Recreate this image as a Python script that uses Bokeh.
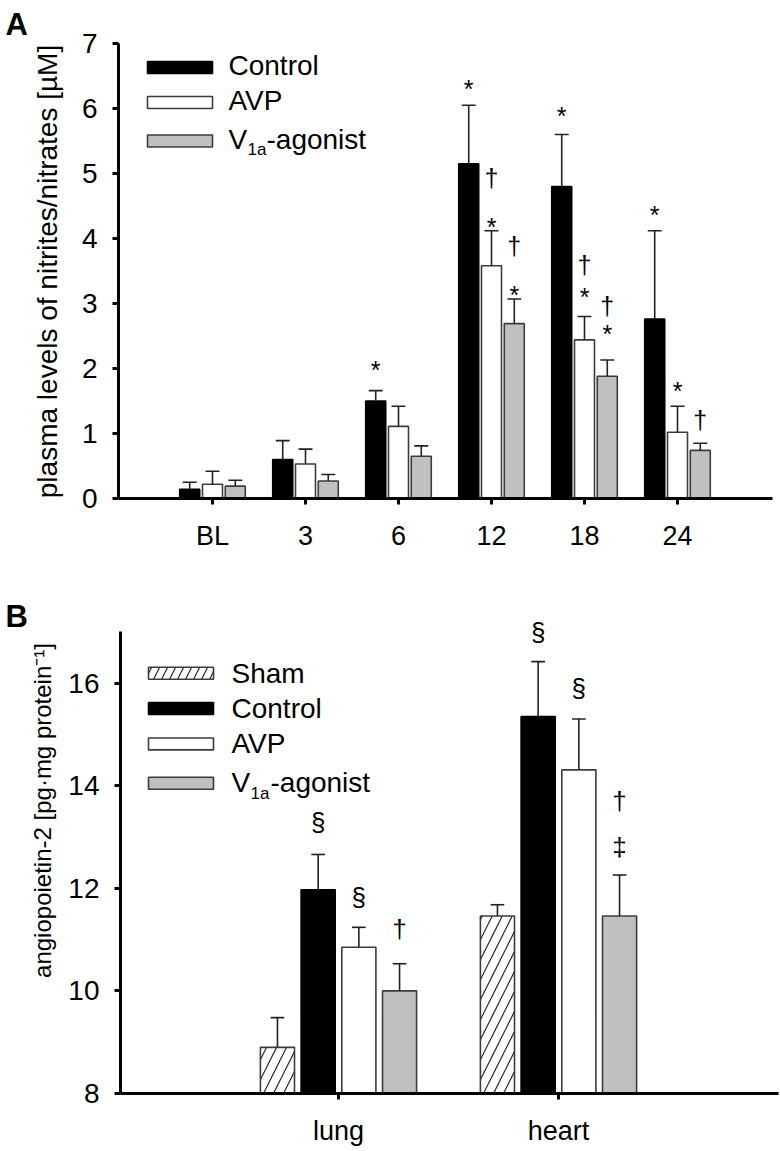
from bokeh.plotting import figure
from bokeh.layouts import column, row
from bokeh.models import Range1d, FixedTicker
from bokeh.core.properties import value
from bokeh.embed import file_html
from bokeh.resources import INLINE

FONT = "Liberation Sans"

# ---------------- data: panel A ----------------
timepoints = ["BL", "3", "6", "12", "18", "24"]
a_control = [0.14, 0.60, 1.50, 5.15, 4.80, 2.76]
a_control_err = [0.11, 0.29, 0.16, 0.90, 0.80, 1.36]
a_avp = [0.22, 0.53, 1.11, 3.58, 2.44, 1.02]
a_avp_err = [0.20, 0.23, 0.31, 0.54, 0.36, 0.40]
a_v1a = [0.19, 0.27, 0.65, 2.69, 1.88, 0.74]
a_v1a_err = [0.09, 0.10, 0.16, 0.38, 0.25, 0.11]
a_yticks = [0, 1, 2, 3, 4, 5, 6, 7]
# significance marks: time index, group index (0 Control, 1 AVP, 2 V1a), symbol, text-middle value
a_mark_idx = [2, 3, 3, 3, 3, 3, 4, 4, 4, 4, 4, 5, 5, 5]
a_mark_grp = [0, 0, 1, 1, 2, 2, 0, 1, 1, 2, 2, 0, 1, 2]
a_mark_sym = ["*", "*", "†", "*", "†", "*", "*", "†", "*", "†", "*", "*", "*", "†"]
a_mark_y = [1.97, 6.30, 4.93, 4.18, 3.88, 3.13, 5.89, 3.59, 3.10, 2.96, 2.53, 4.36, 1.65, 1.21]

# ---------------- data: panel B ----------------
organs = ["lung", "heart"]
b_sham = [8.90, 11.46]
b_sham_err = [0.58, 0.22]
b_control = [11.97, 15.35]
b_control_err = [0.69, 1.07]
b_avp = [10.85, 14.31]
b_avp_err = [0.39, 0.99]
b_v1a = [10.00, 11.46]
b_v1a_err = [0.53, 0.80]
b_yticks = [8, 10, 12, 14, 16]
# group index (0 Sham, 1 Control, 2 AVP, 3 V1a)
b_mark_idx = [0, 0, 0, 1, 1, 1, 1]
b_mark_grp = [1, 2, 3, 1, 2, 3, 3]
b_mark_sym = ["§", "§", "†", "§", "§", "†", "‡"]
b_mark_y = [13.29, 11.84, 11.21, 17.00, 15.91, 13.71, 12.81]

# ---------------- styles ----------------
EDGE = "#3c3c3c"
GRAY = "#c0c0c0"
STRIP_W = 64


def style_axes(p, xticks, xlabels, yticks, ybounds, xstandoff):
    p.xaxis.ticker = FixedTicker(ticks=xticks)
    p.xaxis.major_label_overrides = {t: l for t, l in zip(xticks, xlabels)}
    p.yaxis.ticker = FixedTicker(ticks=yticks)
    p.yaxis.bounds = ybounds
    for ax in p.axis:
        ax.axis_line_width = 3
        ax.axis_line_color = "black"
        ax.major_tick_line_width = 3
        ax.major_tick_line_color = "black"
        ax.major_tick_out = 6
        ax.major_tick_in = 0
        ax.minor_tick_line_color = None
        ax.major_label_text_font = FONT
        ax.major_label_text_color = "black"
    p.xaxis.major_label_text_font_size = "27px"
    p.yaxis.major_label_text_font_size = "28px"
    p.xaxis.major_label_standoff = xstandoff
    p.yaxis.major_label_standoff = 15
    p.grid.grid_line_color = None
    p.outline_line_color = None
    p.background_fill_color = "white"
    p.border_fill_color = "white"


def bars(p, xs, tops, errs, bottom, width, cap, fill, line, hatch=None):
    kw = {}
    if hatch:
        kw = dict(hatch_pattern=hatch, hatch_scale=20, hatch_weight=1.2, hatch_color="#222222")
    p.vbar(x=xs, top=tops, bottom=bottom, width=width, fill_color=fill,
           line_color=line, line_width=1.6, **kw)
    ups = [t + e for t, e in zip(tops, errs)]
    p.segment(x0=xs, y0=tops, x1=xs, y1=ups, line_color="#222222", line_width=1.6)
    p.segment(x0=[x - cap for x in xs], y0=ups, x1=[x + cap for x in xs], y1=ups,
              line_color="#222222", line_width=1.6)


def txt(p, x, y, text, size, align="left", bold=False, angle=0.0):
    p.text(x=[x], y=[y], text=[text], text_font=value(FONT), text_font_size=value(size),
           text_align=align, text_baseline="middle", angle=angle, text_color="black",
           text_font_style="bold" if bold else "normal")


def strip(height, top_px):
    # narrow text strip left of a panel; its data units are page pixels (y downwards)
    s = figure(frame_width=STRIP_W, frame_height=height, x_range=Range1d(0, STRIP_W),
               y_range=Range1d(top_px + height, top_px), output_backend="svg",
               toolbar_location=None, x_axis_location=None, y_axis_location=None,
               min_border=0, title=None)
    if "frame_align" in s.properties():
        s.frame_align = False
    s.grid.grid_line_color = None
    s.outline_line_color = None
    s.border_fill_color = "white"
    s.background_fill_color = "white"
    return s


# ================= Panel A =================
# page px of x=0 is 212, 93 px per category; y=0 at 498 px, 65 px per unit
A_X0, A_XS, A_Y0, A_YS = 212.0, 93.0, 498.0, 65.0
def ax_(px): return (px - A_X0) / A_XS
def ay_(py): return (A_Y0 - py) / A_YS

A_H = 560
pA = figure(width=780 - STRIP_W, height=A_H, x_range=Range1d(ax_(118), ax_(772)),
            y_range=Range1d(0, 7), output_backend="svg", toolbar_location=None,
            min_border_left=118 - STRIP_W, min_border_right=8, min_border_top=43,
            min_border_bottom=A_H - 498, title=None)
style_axes(pA, list(range(len(timepoints))), timepoints, a_yticks, (0, 7), 16)

a_off = [-0.245, 0.0, 0.245]
a_w, a_cap = 0.215, 0.075
idx = list(range(len(timepoints)))
bars(pA, [i + a_off[0] for i in idx], a_control, a_control_err, 0, a_w, a_cap, "black", "black")
bars(pA, [i + a_off[1] for i in idx], a_avp, a_avp_err, 0, a_w, a_cap, "white", EDGE)
bars(pA, [i + a_off[2] for i in idx], a_v1a, a_v1a_err, 0, a_w, a_cap, GRAY, EDGE)

pA.text(x=[i + a_off[g] for i, g in zip(a_mark_idx, a_mark_grp)], y=a_mark_y, text=a_mark_sym,
        text_font=value(FONT), text_font_size=value("25px"), text_align="center",
        text_baseline="middle", text_color="black")

# legend A
leg_cy = [67, 102, 140.5]
pA.quad(left=[ax_(147)] * 3, right=[ax_(212)] * 3,
        top=[ay_(c - 6) for c in leg_cy], bottom=[ay_(c + 6) for c in leg_cy],
        fill_color=["black", "white", GRAY], line_color=["black", EDGE, EDGE], line_width=1.6)
txt(pA, ax_(228), ay_(leg_cy[0] - 2), "Control", "28px")
txt(pA, ax_(228), ay_(leg_cy[1] - 2), "AVP", "28px")
txt(pA, ax_(228), ay_(leg_cy[2] - 2), "V", "28px")
txt(pA, ax_(247), ay_(leg_cy[2] + 8.5), "1a", "17px")
txt(pA, ax_(266), ay_(leg_cy[2] - 2), "-agonist", "28px")

sA = strip(A_H, 0)
txt(sA, 47, 271, "plasma levels of nitrites/nitrates [µM]", "28px", align="center",
    angle=1.5707963)
txt(sA, 5, 24, "A", "31px", bold=True)

# ================= Panel B =================
B_X0, B_XS, B_Y0, B_YS = 338.0, 220.0, 1095.0, 51.5
def bx_(px): return (px - B_X0) / B_XS
def by_(py): return 8 + (B_Y0 - py) / B_YS

B_TOP = A_H
B_H = 588
pB = figure(width=780 - STRIP_W, height=B_H, x_range=Range1d(bx_(120), bx_(778)),
            y_range=Range1d(8, by_(601)), output_backend="svg", toolbar_location=None,
            min_border_left=120 - STRIP_W, min_border_right=2, min_border_top=601 - B_TOP,
            min_border_bottom=B_TOP + B_H - 1095, title=None)
style_axes(pB, [0, 1], organs, b_yticks, (8, 17), 16)

b_off = [-0.2775, -0.0925, 0.0925, 0.2775]
b_w, b_cap = 0.155, 0.031
oi = list(range(len(organs)))
bars(pB, [i + b_off[0] for i in oi], b_sham, b_sham_err, 8, b_w, b_cap, "white", EDGE, hatch="/")
bars(pB, [i + b_off[1] for i in oi], b_control, b_control_err, 8, b_w, b_cap, "black", "black")
bars(pB, [i + b_off[2] for i in oi], b_avp, b_avp_err, 8, b_w, b_cap, "white", EDGE)
bars(pB, [i + b_off[3] for i in oi], b_v1a, b_v1a_err, 8, b_w, b_cap, GRAY, EDGE)

pB.text(x=[i + b_off[g] for i, g in zip(b_mark_idx, b_mark_grp)], y=b_mark_y, text=b_mark_sym,
        text_font=value(FONT), text_font_size=value("26px"), text_align="center",
        text_baseline="middle", text_color="black")

# legend B
bl_cy = [673, 708.5, 744, 783.5]
pB.quad(left=[bx_(148)], right=[bx_(213)], top=[by_(bl_cy[0] - 6)], bottom=[by_(bl_cy[0] + 6)],
        fill_color="white", line_color=EDGE, line_width=1.6,
        hatch_pattern="/", hatch_scale=16, hatch_weight=1.2, hatch_color="#222222")
pB.quad(left=[bx_(148)] * 3, right=[bx_(213)] * 3,
        top=[by_(c - 6) for c in bl_cy[1:]], bottom=[by_(c + 6) for c in bl_cy[1:]],
        fill_color=["black", "white", GRAY], line_color=["black", EDGE, EDGE], line_width=1.6)
txt(pB, bx_(231), by_(bl_cy[0]), "Sham", "28px")
txt(pB, bx_(231), by_(bl_cy[1]), "Control", "28px")
txt(pB, bx_(231), by_(bl_cy[2]), "AVP", "28px")
txt(pB, bx_(231), by_(bl_cy[3] - 0.7), "V", "28px")
txt(pB, bx_(250), by_(bl_cy[3] + 10), "1a", "17px")
txt(pB, bx_(270), by_(bl_cy[3] - 0.7), "-agonist", "28px")

sB = strip(B_H, B_TOP)
txt(sB, 42, 810, "angiopoietin-2 [pg·mg protein⁻¹]", "24px", align="center",
    angle=1.5707963)
txt(sB, 5, 616, "B", "31px", bold=True)

layout = column(row(sA, pA, spacing=0), row(sB, pB, spacing=0), spacing=0)
open("out.html", "w").write(file_html(layout, INLINE))
